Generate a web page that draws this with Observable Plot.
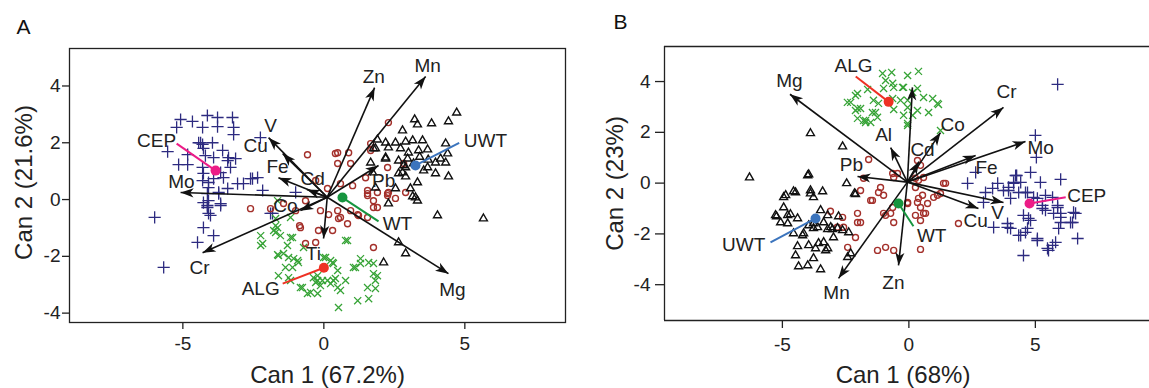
<!DOCTYPE html>
<html><head><meta charset="utf-8">
<script src="https://cdn.jsdelivr.net/npm/d3@7"></script>
<script src="https://cdn.jsdelivr.net/npm/@observablehq/plot@0.6"></script>
<style>
html,body{margin:0;padding:0;background:#fff;width:1149px;height:388px;overflow:hidden;position:relative;}
#a{position:absolute;left:0;top:0;width:575px;height:388px;}
#b{position:absolute;left:575px;top:0;width:620px;height:388px;}
svg{max-width:none !important;}
</style></head><body><div id="a"></div><div id="b"></div>
<script>
// ---------- Panel A data ----------
const aCEP = [[-5.08,2.82],[-4.66,2.75],[-4.13,2.96],[-3.77,2.89],[-3.24,2.89],[-5.22,2.54],[-4.3,2.54],[-3.77,2.57],[-3.2,2.54],[-3.2,2.29],[-5.54,1.69],[-4.44,2.0],[-4.3,1.94],[-3.95,2.0],[-4.27,1.8],[-4.83,1.58],[-4.2,1.55],[-3.91,1.48],[-3.41,1.37],[-3.13,1.44],[-5.15,1.23],[-4.83,1.23],[-4.3,1.13],[-3.31,1.13],[-3.66,0.95],[-4.27,0.92],[-4.09,0.6],[-4.3,0.67],[-3.91,0.74],[-3.56,0.77],[-3.06,0.56],[-3.41,0.39],[-2.53,0.74],[-2.35,0.77],[-2.25,2.18],[-3.73,0.25],[-4.09,0.42],[-4.37,2.0],[-3.59,1.73],[-3.38,1.48],[-2.85,0.56],[-2.6,0.74],[-2.17,0.32],[-4.13,0.21],[-3.73,0.21],[-4.09,-0.04],[-3.66,-0.14],[-4.13,-0.28],[-4.02,-0.56],[-4.27,-0.99],[-3.91,-1.27],[-1.89,-0.49],[-1.0,0.25],[-4.27,-0.11],[-4.13,-0.21],[-3.66,-0.21],[-4.09,-0.49],[-6.0,-0.63],[-4.48,-1.51],[-5.68,-2.39],[-1.82,-0.49]];
const aUWT = [[4.71,3.06],[4.42,2.75],[3.82,2.68],[3.22,2.82],[3.32,2.64],[2.79,2.43],[1.9,2.11],[2.19,2.0],[2.54,2.0],[2.9,2.04],[3.15,2.08],[3.5,2.08],[1.83,1.8],[2.29,1.83],[2.72,1.8],[3.0,1.65],[3.36,1.73],[3.68,1.76],[4.32,1.97],[4.39,1.62],[4.14,1.44],[4.32,1.3],[3.96,1.3],[2.19,1.44],[2.65,1.37],[2.97,1.44],[2.83,1.2],[3.18,1.27],[3.68,1.13],[3.54,1.02],[2.79,0.95],[2.9,0.81],[3.32,0.6],[3.96,0.92],[4.42,0.81],[3.07,0.39],[2.54,0.39],[3.15,0.11],[3.32,-0.04],[2.29,-0.14],[1.83,0.42],[4.03,-0.56],[5.66,-0.67],[1.66,1.3],[1.73,0.95],[1.76,1.8],[2.19,1.48],[2.65,0.92],[3.25,0.07],[2.65,-1.51],[2.9,-1.9],[2.12,-2.22],[2.9,1.13],[3.4,1.5],[3.7,1.4]];
const aWT = [[2.29,2.71],[1.66,1.97],[2.26,1.13],[2.83,1.27],[0.88,1.65],[0.49,1.65],[0.49,1.27],[0.95,1.27],[-0.58,1.58],[1.55,0.21],[2.26,0.21],[2.9,0.25],[-0.29,0.67],[0.13,0.39],[0.59,0.56],[1.02,0.49],[1.48,0.77],[1.66,1.73],[-2.6,-0.32],[-1.89,-0.32],[-1.0,-0.39],[-0.65,-0.04],[-0.12,-0.39],[0.17,-0.53],[0.49,-0.39],[0.59,-0.63],[0.84,-0.85],[1.2,-0.53],[1.55,-0.63],[1.9,-0.28],[1.76,-0.04],[1.55,0.14],[1.55,0.32],[2.26,0.14],[2.54,0.04],[2.29,0.25],[-0.86,-0.92],[-0.19,-1.09],[0.31,-1.09],[-0.65,-1.55],[-0.29,-1.51],[1.76,-1.69],[-1.43,-0.14],[-0.83,-0.99],[1.23,-0.56],[1.76,-0.28],[0.95,-0.39],[0.52,-0.67],[1.9,0.25],[0.41,1.62]];
const aALG = [[-2.24,-1.27],[-2.24,-1.62],[-1.64,-0.99],[-1.64,-1.94],[-1.18,-1.34],[-1.25,-2.04],[-0.93,-2.15],[-1.36,-2.39],[-1.61,-2.68],[-1.18,-2.85],[-0.83,-3.1],[-0.29,-2.92],[-0.01,-2.04],[0.34,-2.25],[0.77,-1.44],[1.05,-2.39],[1.3,-2.25],[1.76,-2.25],[1.9,-2.68],[1.55,-3.1],[0.34,-2.85],[-0.22,-3.31],[-0.72,-1.69],[-1.71,-0.67],[-1.18,-0.63],[-2.17,-1.55],[-1.61,-1.97],[-1.71,-0.92],[-1.71,-1.16],[-1.64,-0.04],[-1.29,-1.62],[-1.25,-2.75],[-1.78,-1.09],[-1.43,-1.9],[-1.07,-2.08],[-0.9,-2.22],[-1.11,-2.39],[-0.76,-3.1],[-0.58,-3.31],[-0.47,-3.27],[-0.37,-2.75],[-0.22,-2.85],[-0.05,-2.85],[0.13,-2.85],[0.24,-2.96],[0.41,-2.78],[0.49,-3.1],[0.59,-3.2],[0.77,-2.85],[0.49,-2.5],[0.31,-2.22],[0.06,-2.04],[0.24,-2.15],[0.84,-1.44],[1.12,-2.39],[1.3,-2.08],[1.59,-2.22],[1.76,-2.61],[1.83,-2.85],[1.83,-3.13],[1.59,-3.49],[1.2,-3.56],[0.52,-3.8],[-0.22,-2.68],[-0.12,-3.03],[-1.54,-1.27],[-1.11,-1.34]];

const aOrigin = [0.12, 0.08];
const aVarNames = ["Zn","Mn","Pb","Mg","Ti","Cr","Mo","Co","Fe","Cd","Cu","V"];
const aVarX = [1.8, 3.61, 1.94, 4.42, -0.01, -4.3, -5.08, -0.83, -1.61, -0.6, -1.46, -1.96];
const aVarY = [3.94, 4.33, 1.2, -2.61, -1.37, -1.87, 0.25, -0.39, 0.77, 0.35, 1.62, 2.18];
const aVarLabelX = [1.77, 3.68, 2.12, 4.56, -0.37, -4.41, -5.05, -1.36, -1.64, -0.4, -2.42, -1.89];
const aVarLabelY = [4.33, 4.72, 0.67, -3.17, -1.9, -2.39, 0.63, -0.21, 1.16, 0.74, 1.9, 2.61];

const groups = ["CEP","ALG","UWT","WT"];
const groupColors = ["#ec1c87","#ee3124","#3b74bd","#17953f"];
const aCenX = [-3.84, 0.0, 3.25, 0.66];
const aCenY = [1.02, -2.4, 1.2, 0.07];
const aLeadX = [-5.22, -1.46, 4.8, 1.94];
const aLeadY = [1.97, -2.96, 2.0, -0.77];
const aTagX = [-5.93, -2.24, 5.73, 2.61];
const aTagY = [2.08, -3.13, 2.08, -0.85];

// ---------- Panel B data ----------
const bCEP = [[5.88,3.89],[5.0,1.88],[5.04,1.01],[2.64,0.42],[2.32,-0.01],[3.03,-0.37],[3.31,-0.21],[3.51,-0.01],[3.94,-0.17],[4.14,0.03],[4.26,0.3],[4.42,0.03],[4.61,-0.37],[4.81,0.42],[5.2,0.03],[6.0,0.15],[3.74,-0.29],[4.02,-0.6],[4.34,-0.37],[4.69,-0.37],[5.08,-0.6],[5.4,-0.48],[5.28,-0.88],[5.4,-1.07],[5.88,-0.96],[6.51,-1.15],[5.72,-1.19],[6.0,-1.35],[6.47,-1.55],[5.92,-1.78],[4.53,-1.27],[4.81,-1.47],[3.35,-1.74],[3.9,-1.74],[4.02,-1.78],[4.69,-1.78],[4.61,-1.94],[4.34,-2.06],[5.08,-2.18],[6.67,-2.18],[5.8,-2.33],[5.68,-2.45],[5.48,-2.57],[4.53,-2.85],[2.95,-0.76],[4.22,0.3],[4.14,-0.01],[3.94,-0.29],[3.9,-1.59],[4.73,-1.39],[5.08,-2.26],[5.52,-2.65],[6.0,-1.55],[6.39,-1.55],[6.59,-1.19],[6.0,-1.19],[5.28,-1.0],[4.93,-0.56],[5.68,-0.56],[5.88,-0.88],[4.42,-2.06]];
const bUWT = [[-3.89,1.96],[-2.62,1.44],[-6.3,0.22],[-3.96,0.34],[-2.46,-0.01],[-4.87,-0.48],[-4.56,-0.33],[-3.89,-0.29],[-3.41,-0.33],[-2.15,-0.41],[-4.48,-0.37],[-3.89,-0.41],[-2.11,-0.44],[-4.95,-0.96],[-3.77,-0.56],[-3.49,-1.07],[-3.21,-1.27],[-5.23,-1.31],[-4.79,-1.27],[-4.68,-1.23],[-5.07,-1.55],[-4.79,-1.59],[-4.4,-1.39],[-3.96,-1.67],[-3.77,-1.59],[-3.37,-1.55],[-2.78,-1.31],[-4.56,-1.98],[-4.2,-2.06],[-3.77,-1.78],[-3.61,-1.74],[-3.21,-1.82],[-3.02,-1.82],[-2.82,-1.78],[-2.62,-1.86],[-2.38,-1.94],[-2.98,-2.14],[-4.4,-2.49],[-3.96,-2.45],[-3.57,-2.37],[-3.37,-2.33],[-3.21,-2.57],[-3.69,-2.57],[-4.48,-2.85],[-3.77,-2.96],[-4.36,-3.28],[-4.0,-3.24],[-3.49,-3.4],[-2.3,-2.77],[-4.95,-0.56],[-4.16,-1.98],[-3.29,-2.65],[-2.42,-2.92],[-3.09,-1.74],[-5.27,-1.27],[-4.0,0.3]];
const bWT = [[-1.59,0.93],[-1.79,0.19],[-1.12,-0.17],[-1.2,-0.37],[-1.44,-0.68],[-0.6,0.22],[-0.45,0.38],[0.34,0.89],[0.46,0.7],[0.26,0.19],[0.58,0.22],[1.45,-0.01],[1.25,-0.41],[0.98,-0.56],[0.54,-0.48],[0.34,-0.76],[0.46,-0.96],[0.74,-0.8],[0.58,-1.19],[0.26,-1.27],[-0.05,-0.76],[-0.64,-0.96],[-0.72,-1.19],[-1.0,-1.19],[-0.6,-1.55],[-2.03,-1.19],[-2.03,-1.55],[-2.62,-1.35],[-2.58,-1.74],[-2.11,-2.14],[-2.42,-2.53],[-1.24,-2.65],[-0.92,-2.53],[-0.6,-2.65],[1.96,-1.59],[-1.91,-0.29],[-3.1,-1.11],[-2.83,-1.74],[-1.51,-0.68],[0.46,-2.61],[-0.92,-1.27],[0.66,-1.19],[0.46,-1.47],[-1.0,-0.48],[-1.91,-1.55],[-0.64,0.38],[0.38,0.11],[1.37,-0.01],[0.26,-0.17],[1.13,-0.48],[0.38,-0.6],[-0.05,-0.8]];
const bALG = [[-1.04,4.32],[-0.05,4.24],[0.38,4.4],[-0.64,3.93],[-1.0,3.73],[-0.21,3.77],[0.15,3.57],[0.58,3.37],[0.94,3.33],[1.13,3.14],[-2.3,3.18],[-2.03,3.53],[-1.63,3.69],[-1.4,3.26],[-1.2,3.14],[-1.91,2.94],[-2.11,2.86],[-1.44,2.78],[-1.24,2.59],[-2.03,2.55],[-1.79,2.47],[-1.51,2.39],[-0.6,2.9],[-0.05,2.98],[-0.21,2.67],[-0.05,2.35],[0.15,2.67],[0.34,2.86],[0.78,2.78],[1.25,2.07],[-0.64,3.33],[-0.33,3.26],[-0.68,4.36],[-0.92,4.04],[-0.6,3.77],[-0.25,3.77],[0.34,3.73],[-0.05,3.26],[-1.32,2.78],[-1.71,2.47],[-2.11,3.45],[-2.43,3.18],[-2.03,2.94],[-0.05,2.27],[1.17,3.1],[-1.71,2.39]];

const bOrigin = [-0.06, 0.04];
const bVarNames = ["Mg","Ti","Al","Cd","Co","Cr","Mo","Fe","V","Cu","Zn","Mn","Pb"];
const bVarShown = ["Mg","","Al","Cd","Co","Cr","Mo","Fe","V","Cu","Zn","Mn","Pb"];
const bVarX = [-4.7, 0.14, -0.72, 0.4, 1.25, 3.74, 4.61, 2.64, 3.74, 2.75, -0.41, -2.78, -2.03];
const bVarY = [3.5, 3.77, 1.4, 0.85, 1.99, 2.98, 1.64, 1.09, -0.76, -1.0, -3.24, -3.75, 0.26];
const bVarLabelX = [-4.72, 0, -1.0, 0.54, 1.73, 3.86, 5.21, 3.07, 3.51, 2.64, -0.61, -2.86, -2.27];
const bVarLabelY = [4.04, 0, 1.88, 1.29, 2.31, 3.61, 1.37, 0.58, -1.19, -1.47, -3.91, -4.34, 0.7];

const bCenX = [4.77, -0.8, -3.69, -0.41];
const bCenY = [-0.8, 3.2, -1.39, -0.8];
const bLeadX = [6.2, -2.1, -5.47, 0.18];
const bLeadY = [-0.56, 4.2, -2.33, -1.7];
const bTagX = [7.03, -2.19, -6.53, 0.9];
const bTagY = [-0.52, 4.63, -2.45, -2.06];

const xTicks = [-5, 0, 5];
const yTicks = [-4, -2, 0, 2, 4];

// ---------- drawing ----------
const head = {draw(ctx){ ctx.moveTo(0,0); ctx.lineTo(-4.6,13); ctx.lineTo(0,9.5); ctx.lineTo(4.6,13); ctx.closePath(); }};
const FONT = "Arial, 'Liberation Sans', Helvetica, sans-serif";

function panel(o) {
  const H = 388;
  const kx = (o.width - o.ml - o.mr) / (o.xd[1] - o.xd[0]);
  const ky = (H - o.mt - o.mb) / (o.yd[1] - o.yd[0]);
  const pts = arr => arr.map(([x, y]) => ({x, y}));
  const vars = o.vars.map((v, i) => ({
    name: v, label: o.shown[i], x: o.vx[i], y: o.vy[i], lx: o.lx[i], ly: o.ly[i],
    x0: o.origin[0], y0: o.origin[1],
    angle: Math.atan2((o.vx[i] - o.origin[0]) * kx, (o.vy[i] - o.origin[1]) * ky) * 180 / Math.PI
  }));
  const cents = groups.map((g, i) => ({g, c: groupColors[i], cx: o.cx[i], cy: o.cy[i], lx: o.lx2[i], ly: o.ly2[i], tx: o.tx[i], ty: o.ty[i]}));
  const frameMarks = o.openRight
    ? [Plot.ruleX([o.xd[0]], {stroke: "#222", strokeWidth: 1.3}),
       Plot.ruleY([o.yd[0], o.yd[1]], {stroke: "#222", strokeWidth: 1.3})]
    : [Plot.frame({stroke: "#222", strokeWidth: 1.3})];
  return Plot.plot({
    width: o.width, height: H,
    marginLeft: o.ml, marginRight: o.mr, marginTop: o.mt, marginBottom: o.mb,
    x: {domain: o.xd}, y: {domain: o.yd},
    color: {type: "identity"},
    style: {fontFamily: FONT, fontSize: "19px", color: "#222", background: "transparent", overflow: "visible", maxWidth: "none"},
    marks: [
      Plot.axisX(xTicks, {tickSize: o.xts, tickPadding: o.xtp, tickFormat: d => String(d), label: null, strokeWidth: 1.3, stroke: "#222"}),
      Plot.axisY(yTicks, {tickSize: o.yts, tickPadding: o.ytp, tickFormat: d => String(d), label: null, strokeWidth: 1.3, stroke: "#222"}),
      Plot.dot(pts(o.cep), {x: "x", y: "y", symbol: "plus", r: 4, stroke: "#2d2b80", strokeWidth: 1.3}),
      Plot.dot(pts(o.alg), {x: "x", y: "y", symbol: "times", r: 3.3, stroke: "#36a336", strokeWidth: 1.3}),
      Plot.dot(pts(o.wt), {x: "x", y: "y", symbol: "circle", r: 3, stroke: "#a32f2a", fill: "none", strokeWidth: 1.4}),
      Plot.dot(pts(o.uwt), {x: "x", y: "y", symbol: "triangle2", r: 3.8, stroke: "#111", fill: "none", strokeWidth: 1.4}),
      Plot.link(vars, {x1: "x0", y1: "y0", x2: "x", y2: "y", stroke: "#111", strokeWidth: 1.6}),
      Plot.dot(vars, {x: "x", y: "y", symbol: head, rotate: "angle", fill: "#111", stroke: "none", r: 5}),
      Plot.link(cents, {x1: "cx", y1: "cy", x2: "lx", y2: "ly", stroke: "c", strokeWidth: 2}),
      Plot.dot(cents, {x: "cx", y: "cy", r: 5, fill: "c", stroke: "none"}),
      Plot.text(vars.filter(d => d.label), {x: "lx", y: "ly", text: "label", fill: "#222", fontSize: 19}),
      Plot.text(cents, {x: "tx", y: "ty", text: "g", fill: "#222", fontSize: 19}),
      ...frameMarks,
      Plot.text([o.title], {frameAnchor: "top-left", text: d => d, textAnchor: "middle", lineAnchor: "middle", dx: o.tdx, dy: o.tdy, fontSize: 21, fill: "#111"}),
      Plot.text([o.xlabel], {frameAnchor: "bottom", text: d => d, textAnchor: "middle", lineAnchor: "middle", dx: o.xldx, dy: o.xldy, fontSize: 24, fill: "#222"}),
      Plot.text([o.ylabel], {frameAnchor: "left", text: d => d, textAnchor: "middle", lineAnchor: "middle", rotate: -90, dx: o.yldx, dy: o.yldy, fontSize: 24, fill: "#222"})
    ]
  });
}

document.getElementById("a").append(panel({
  width: 575, ml: 69, mr: 10, mt: 48, mb: 66,
  xd: [-9.02, 8.57], yd: [-4.33, 5.32],
  xts: 7, xtp: 7, yts: 7, ytp: 2,
  cep: aCEP, alg: aALG, wt: aWT, uwt: aUWT,
  origin: aOrigin, vars: aVarNames, shown: aVarNames, vx: aVarX, vy: aVarY, lx: aVarLabelX, ly: aVarLabelY,
  cx: aCenX, cy: aCenY, lx2: aLeadX, ly2: aLeadY, tx: aTagX, ty: aTagY,
  title: "A", tdx: -46, tdy: -21,
  xlabel: "Can 1 (67.2%)", xldx: 10, xldy: 53,
  ylabel: "Can 2 (21.6%)", yldx: -45, yldy: -3
}));

document.getElementById("b").append(panel({
  width: 620, ml: 89, mr: 0, mt: 46, mb: 68, openRight: true,
  xd: [-9.66, 11.33], yd: [-5.41, 5.38],
  xts: 8, xtp: 9, yts: 9, ytp: 5,
  cep: bCEP, alg: bALG, wt: bWT, uwt: bUWT,
  origin: bOrigin, vars: bVarNames, shown: bVarShown, vx: bVarX, vy: bVarY, lx: bVarLabelX, ly: bVarLabelY,
  cx: bCenX, cy: bCenY, lx2: bLeadX, ly2: bLeadY, tx: bTagX, ty: bTagY,
  title: "B", tdx: -44, tdy: -24,
  xlabel: "Can 1 (68%)", xldx: -27, xldy: 55,
  ylabel: "Can 2 (23%)", yldx: -49, yldy: 0
}));
</script>
</body></html>
